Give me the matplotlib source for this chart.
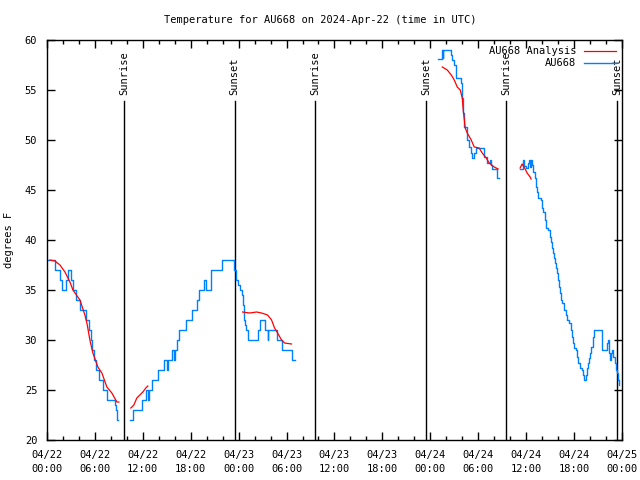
import numpy as np
import pandas as pd
import matplotlib
matplotlib.use("Agg")
import matplotlib.pyplot as plt
import matplotlib.dates as mdates

# hours since 2024-04-22 00:00 UTC
obs_hours_1 = [0, 1.0, 1.625, 1.875, 2.375, 2.625, 3.0, 3.25, 3.625, 4.125, 4.875, 5.25,
               5.5, 5.625, 5.875, 6.125, 6.5, 7.0, 7.5, 8.5, 8.625, 8.75, 8.875]
obs_temp_1 = [38, 37, 36, 35, 36, 37, 36, 35, 34, 33, 32, 31,
              30, 29, 28, 27, 26, 25, 24, 23.5, 23, 22, 22]

obs_hours_2 = [10.375, 10.75, 11.875, 12.375, 12.625, 12.75, 13.125, 13.875, 14.625, 15.0,
               15.125, 15.625, 15.875, 16.0, 16.25, 16.5, 17.375, 18.125, 18.75, 19.0,
               19.625, 19.875, 20.5, 21.875, 23.375, 23.625, 23.875, 24.125, 24.375, 24.5,
               24.625, 24.75, 24.875, 25.125, 26.375, 26.625, 27.25, 27.625, 27.69, 28.75,
               29.375, 30.625, 31.0]
obs_temp_2 = [22, 23, 24, 25, 24, 25, 26, 27, 28, 27,
              28, 29, 28, 29, 30, 31, 32, 33, 34, 35,
              36, 35, 37, 38, 37, 36, 35.5, 35, 34.5, 33.5,
              32, 31.5, 31, 30, 31, 32, 31, 30, 31, 30,
              29, 28, 28]

obs_hours_3 = [49.0, 49.5, 49.56, 49.625, 50.625, 50.75, 51.0, 51.25, 51.875, 52.0, 52.125,
               52.25, 52.625, 52.875, 53.125, 53.25, 53.5, 53.75, 54.75, 55.125, 55.5,
               55.625, 55.75, 56.375, 56.625]
obs_temp_3 = [58.1, 59, 58.2, 59, 58.5, 58, 57.5, 56.2, 55.7, 54.2, 52.7,
              51.3, 50, 49.3, 48.7, 48.2, 48.7, 49.2, 48.3, 47.7, 48.0,
              47.5, 47.1, 46.2, 46.2]

obs_hours_4 = [59.25, 59.625, 59.66, 59.75, 60.0, 60.25, 60.31, 60.5, 60.625, 60.75, 60.875,
               61.125, 61.25, 61.375, 61.5, 61.875, 62.0, 62.125, 62.375, 62.5, 62.75, 63.0,
               63.125, 63.25, 63.375, 63.5, 63.625, 63.75, 63.875, 64.0, 64.125, 64.25,
               64.375, 64.5, 64.75, 65.0, 65.125, 65.375, 65.625, 65.75, 65.875, 66.0,
               66.25, 66.375, 66.5, 66.75, 67.0, 67.125, 67.25, 67.5, 67.625, 67.75,
               67.875, 68.0, 68.125, 68.375, 68.5, 69.5, 69.56, 70.125, 70.25, 70.375,
               70.5, 70.625, 70.75, 70.875, 71.125, 71.25, 71.375, 71.5, 71.625]
obs_temp_4 = [47.1, 47.6, 48, 47.4, 47.2, 47.7, 48, 47.3, 48, 47.5, 46.8,
              46.2, 45.3, 44.8, 44.2, 44, 43.2, 42.8, 42, 41.2, 41, 40.3,
              39.8, 39.2, 38.7, 38.2, 37.7, 37.2, 36.7, 36, 35.3, 34.7,
              34, 33.7, 33, 32.5, 32, 31.7, 31, 30.3, 29.7, 29.2,
              29, 28.3, 27.7, 27.2, 27, 26.5, 26, 26.5, 27.2, 27.7,
              28.2, 28.7, 29.3, 30.3, 31, 29.7, 29, 29.7, 30, 28.7,
              28, 28.7, 29, 28.3, 27.7, 27, 26.7, 26, 25.5]

ana_hours_1 = [0.375, 1.0, 1.625, 2.25, 2.875, 3.25, 4.125, 4.75, 5.0, 5.375, 5.75,
               6.375, 6.875, 7.5, 8.125, 8.75, 9.0]
ana_temp_1 = [38.0, 37.9, 37.5, 36.8, 35.8, 35, 34, 32.5, 31.7, 30, 28.7,
              27.3, 26.7, 25.3, 24.7, 23.8, 23.8]
ana_hours_2 = [10.5, 10.875, 11.25, 11.625, 12.0, 12.375, 12.625]
ana_temp_2 = [23.2, 23.5, 24.2, 24.5, 24.8, 25.2, 25.4]
ana_hours_3 = [24.5, 25.375, 26.25, 26.875, 27.625, 28.125, 28.5, 28.875, 29.375, 29.75, 30.625]
ana_temp_3 = [32.8, 32.7, 32.8, 32.7, 32.5, 32, 31.2, 30.7, 30, 29.7, 29.6]
ana_hours_4 = [49.5, 50.125, 50.625, 51.0, 51.375, 51.75, 52.0, 52.125, 52.375, 52.625,
               53.125, 53.5, 54.125, 54.5, 55.0, 55.375, 56.0, 56.5]
ana_temp_4 = [57.3, 57.0, 56.5, 56, 55.3, 55, 54.2, 53, 51.2, 50.7,
              50, 49.3, 49.2, 48.7, 48.2, 47.7, 47.3, 47.1]
ana_hours_5 = [59.25, 59.5, 59.875, 60.125, 60.5, 60.625]
ana_temp_5 = [47.2, 47.6, 47.1, 46.7, 46.3, 46.1]

sun_hours = [9.67, 23.5, 33.6, 47.5, 57.5, 71.4]
sun_labels = ["Sunrise", "Sunset", "Sunrise", "Sunset", "Sunrise", "Sunset"]

start = pd.Timestamp("2024-04-22 00:00")


def to_time(hours):
    return start + pd.to_timedelta(np.array(hours), unit="h")


mono = "DejaVu Sans Mono"
blue = "#0080ff"
red = "#ff0000"

fig = plt.figure(figsize=(6.4, 4.8), dpi=100)
ax = fig.add_axes([0.0734, 0.0833, 0.8984, 0.8334])

obs = [(obs_hours_1, obs_temp_1), (obs_hours_2, obs_temp_2),
       (obs_hours_3, obs_temp_3), (obs_hours_4, obs_temp_4)]
ana = [(ana_hours_1, ana_temp_1), (ana_hours_2, ana_temp_2), (ana_hours_3, ana_temp_3),
       (ana_hours_4, ana_temp_4), (ana_hours_5, ana_temp_5)]

for i, (h, t) in enumerate(ana):
    ax.plot(to_time(h), t, color=red, lw=0.9, label="AU668 Analysis" if i == 0 else None, zorder=3)
for i, (h, t) in enumerate(obs):
    ax.plot(to_time(h), t, color=blue, lw=1.0, drawstyle="steps-post",
            label="AU668" if i == 0 else None, zorder=2)

# sunrise / sunset markers
for h, lab in zip(sun_hours, sun_labels):
    tm = to_time([h])[0]
    ax.plot([tm, tm], [20, 53.9], color="black", lw=1, zorder=1)
    ax.text(tm, 54.5, lab, rotation=90, ha="center", va="bottom",
            fontsize=7.5, family=mono)

ax.set_xlim(start, start + pd.Timedelta(hours=72))
ax.set_ylim(20, 60)
ax.set_yticks(np.arange(20, 61, 5))
ax.xaxis.set_major_locator(mdates.HourLocator(byhour=[0, 6, 12, 18]))
ax.xaxis.set_minor_locator(mdates.HourLocator(byhour=range(0, 24, 2)))
ax.xaxis.set_major_formatter(mdates.DateFormatter("%m/%d\n%H:%M"))
ax.tick_params(which="both", direction="in", top=True, right=True, labelsize=7.5, width=1)
ax.tick_params(which="major", length=6, pad=7)
ax.tick_params(which="minor", length=3)
for lab in ax.get_xticklabels():
    lab.set_family(mono)
    lab.set_linespacing(1.5)
for lab in ax.get_yticklabels():
    lab.set_family(mono)
for sp in ax.spines.values():
    sp.set_linewidth(1)

ax.set_ylabel("degrees F", fontsize=7.5, family=mono, labelpad=8)
fig.text(0.5, 0.958, "Temperature for AU668 on 2024-Apr-22 (time in UTC)",
         ha="center", va="center", fontsize=7.5, family=mono)

ax.legend(loc="upper right", frameon=False, markerfirst=False, handlelength=3,
          prop={"family": mono, "size": 7.5}, borderaxespad=0.2, labelspacing=0.2,
          handletextpad=0.8)

fig.savefig("out.png", dpi=100)
